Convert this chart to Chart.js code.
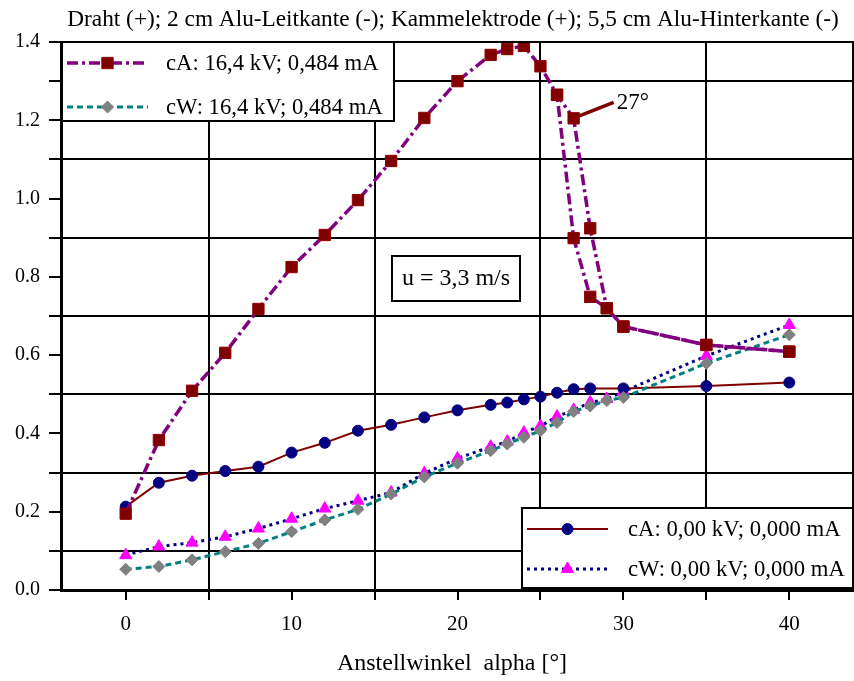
<!DOCTYPE html>
<html>
<head>
<meta charset="utf-8">
<script src="https://cdn.jsdelivr.net/npm/chart.js@4.4.1/dist/chart.umd.min.js"></script>
<style>
  html, body { margin: 0; padding: 0; background: #fff; }
</style>
</head>
<body>
<canvas id="chart" width="854" height="681"></canvas>
<script>
const titleText = 'Draht (+); 2 cm Alu-Leitkante (-); Kammelektrode (+); 5,5 cm Alu-Hinterkante (-)';
const xTitle = 'Anstellwinkel  alpha [°]';
const speedNote = 'u = 3,3 m/s';
const angleNote = '27°';

const seriesNames = [
  'cA: 16,4 kV; 0,484 mA',
  'cW: 16,4 kV; 0,484 mA',
  'cA: 0,00 kV; 0,000 mA',
  'cW: 0,00 kV; 0,000 mA'
];

// angle of attack [deg]
const angles = [0, 2, 4, 6, 8, 10, 12, 14, 16, 18, 20, 22, 23, 24, 25, 26, 27, 28, 29, 30, 35, 40];
const cA164 = [0.195, 0.383, 0.509, 0.606, 0.718, 0.825, 0.907, 0.996, 1.096, 1.206, 1.300, 1.367, 1.382, 1.390, 1.338, 1.265, 1.205, 0.924, 0.720, 0.673, 0.626, 0.609];
// return sweep of the same run
const backAngles = [40, 35, 30, 29, 28, 27, 26];
const cA164Back = [0.609, 0.626, 0.673, 0.720, 0.749, 0.899, 1.265];
const cW164 = [0.053, 0.060, 0.077, 0.098, 0.119, 0.149, 0.179, 0.206, 0.245, 0.289, 0.324, 0.356, 0.373, 0.390, 0.407, 0.428, 0.456, 0.470, 0.484, 0.492, 0.579, 0.652];
const cA0Angles = [0, 2, 4, 6, 8, 10, 12, 14, 16, 18, 20, 22, 23, 24, 25, 26, 27, 28, 30, 35, 40];
const cA0 = [0.213, 0.274, 0.292, 0.304, 0.315, 0.351, 0.376, 0.407, 0.422, 0.441, 0.459, 0.473, 0.479, 0.487, 0.494, 0.504, 0.513, 0.515, 0.515, 0.521, 0.530];
const cW0 = [0.089, 0.111, 0.121, 0.136, 0.157, 0.182, 0.208, 0.228, 0.249, 0.298, 0.336, 0.366, 0.379, 0.402, 0.419, 0.443, 0.460, 0.479, 0.488, 0.507, 0.598, 0.677];

const xTickValues = [0, 5, 10, 15, 20, 25, 30, 35, 40];
const xLabels = [0, 10, 20, 30, 40];
const yLabels = [0, 0.2, 0.4, 0.6, 0.8, 1.0, 1.2, 1.4];

const pts = (xs, ys) => xs.map((x, i) => ({ x: x, y: ys[i] }));
const serif = '"Liberation Serif", "Times New Roman", serif';

const cAStyle = {
  borderColor: '#800080', borderWidth: 3.5, borderDash: [11, 4, 3, 4],
  pointStyle: 'rect', pointRadius: 8, pointBackgroundColor: '#800000',
  pointBorderColor: '#900000', pointBorderWidth: 1
};

const datasets = [
  Object.assign({ label: seriesNames[0], data: pts(angles, cA164) }, cAStyle),
  Object.assign({ label: '', data: pts(backAngles, cA164Back) }, cAStyle),
  {
    label: seriesNames[1], data: pts(angles, cW164),
    borderColor: '#008080', borderWidth: 3, borderDash: [6, 4],
    pointStyle: 'rectRot', pointRadius: 6, pointBackgroundColor: '#808080',
    pointBorderColor: '#808080', pointBorderWidth: 1
  },
  {
    label: seriesNames[2], data: pts(cA0Angles, cA0),
    borderColor: '#800000', borderWidth: 2, borderDash: [],
    pointStyle: 'circle', pointRadius: 5.5, pointBackgroundColor: '#000080',
    pointBorderColor: '#000080', pointBorderWidth: 1
  },
  {
    label: seriesNames[3], data: pts(angles, cW0),
    borderColor: '#000080', borderWidth: 3, borderDash: [3, 4],
    pointStyle: 'triangle', pointRadius: 7, pointBackgroundColor: '#ff00ff',
    pointBorderColor: '#ff00ff', pointBorderWidth: 1
  }
];

function legendRow(ctx, ds, x0, x1, y, tx) {
  ctx.save();
  ctx.strokeStyle = ds.borderColor;
  ctx.lineWidth = ds.borderWidth;
  ctx.setLineDash(ds.borderDash || []);
  ctx.beginPath();
  ctx.moveTo(x0, y);
  ctx.lineTo(x1, y);
  ctx.stroke();
  ctx.setLineDash([]);
  ctx.fillStyle = ds.pointBackgroundColor;
  ctx.strokeStyle = ds.pointBorderColor;
  ctx.lineWidth = ds.pointBorderWidth;
  Chart.helpers.drawPoint(ctx, {
    pointStyle: ds.pointStyle, radius: ds.pointRadius, rotation: 0, borderWidth: ds.pointBorderWidth
  }, (x0 + x1) / 2, y);
  ctx.fillStyle = '#000';
  ctx.font = '22.7px ' + serif;
  ctx.textAlign = 'left';
  ctx.textBaseline = 'middle';
  ctx.fillText(ds.label, tx, y + 1);
  ctx.restore();
}

function box(ctx, x0, y0, x1, y1) {
  ctx.fillStyle = '#fff';
  ctx.fillRect(x0, y0, x1 - x0, y1 - y0);
  ctx.strokeStyle = '#000';
  ctx.lineWidth = 2;
  ctx.strokeRect(x0, y0, x1 - x0, y1 - y0);
}

const decor = {
  id: 'decor',
  afterDraw(chart) {
    const { ctx, chartArea: a, scales } = chart;
    ctx.save();
    // frame top / right
    ctx.strokeStyle = '#000';
    ctx.lineWidth = 2;
    ctx.beginPath();
    ctx.moveTo(a.left, a.top);
    ctx.lineTo(a.right - 1, a.top);
    ctx.lineTo(a.right - 1, a.bottom);
    ctx.stroke();

    ctx.fillStyle = '#000';
    ctx.textAlign = 'center';
    ctx.textBaseline = 'middle';
    ctx.font = '23.3px ' + serif;
    ctx.fillText(titleText, 453, 20);
    ctx.font = '24px ' + serif;
    ctx.fillText(xTitle, 452, 664);

    // speed note
    box(ctx, 392, 256, 520, 301);
    ctx.fillStyle = '#000';
    ctx.font = '24px ' + serif;
    ctx.textAlign = 'center';
    ctx.fillText(speedNote, 456, 279);

    // 27° marker
    const px = scales.x.getPixelForValue(27);
    const py = scales.y.getPixelForValue(cA164[angles.indexOf(27)]);
    ctx.strokeStyle = '#800000';
    ctx.lineWidth = 3.5;
    ctx.beginPath();
    ctx.moveTo(px + 2, py - 1);
    ctx.lineTo(px + 40, py - 16);
    ctx.stroke();
    ctx.fillStyle = '#000';
    ctx.font = '23px ' + serif;
    ctx.textAlign = 'left';
    ctx.fillText(angleNote, px + 43, py - 15);

    // legends
    box(ctx, 62, 42, 394, 121);
    legendRow(ctx, datasets[0], 67, 148, 63, 166);
    legendRow(ctx, datasets[2], 67, 148, 107, 166);
    box(ctx, 522, 508, 853, 588);
    legendRow(ctx, datasets[3], 527, 608, 529, 628);
    legendRow(ctx, datasets[4], 527, 608, 569, 628);
    ctx.restore();
  }
};

Chart.defaults.font.family = serif;
Chart.defaults.color = '#000';

new Chart(document.getElementById('chart'), {
  type: 'scatter',
  data: { datasets: datasets.map(d => Object.assign({ showLine: true, tension: 0, fill: false }, d)) },
  options: {
    responsive: false,
    animation: false,
    layout: { autoPadding: false, padding: { top: 42, right: 0, left: 0, bottom: 0 } },
    plugins: {
      legend: { display: false },
      tooltip: { enabled: false },
      title: { display: false }
    },
    scales: {
      x: {
        type: 'linear',
        min: -3.9,
        max: 43.9,
        afterBuildTicks: s => { s.ticks = xTickValues.map(v => ({ value: v })); },
        afterFit: s => { s.height = 91; },
        ticks: {
          autoSkip: false, maxRotation: 0, padding: 12,
          font: { size: 21 },
          callback: v => xLabels.includes(v) ? String(v) : ''
        },
        grid: {
          color: c => (c.tick && Math.abs(c.tick.value % 10) === 5) ? '#000' : 'rgba(0,0,0,0)',
          lineWidth: 2, tickColor: '#000', tickLength: 10, tickWidth: 2
        },
        border: { color: '#000', width: 3 }
      },
      y: {
        min: 0,
        max: 1.4,
        afterFit: s => { s.width = 61; },
        ticks: {
          stepSize: 0.1, autoSkip: false, padding: 9,
          font: { size: 20 },
          callback: v => yLabels.some(l => Math.abs(l - v) < 1e-6) ? v.toFixed(1) : ''
        },
        grid: {
          color: c => (c.tick && Math.round(c.tick.value * 10) % 2 === 1) ? '#000' : 'rgba(0,0,0,0)',
          lineWidth: 2, tickColor: '#000', tickLength: 12, tickWidth: 2
        },
        border: { color: '#000', width: 3 }
      }
    }
  },
  plugins: [decor]
});
</script>
</body>
</html>
